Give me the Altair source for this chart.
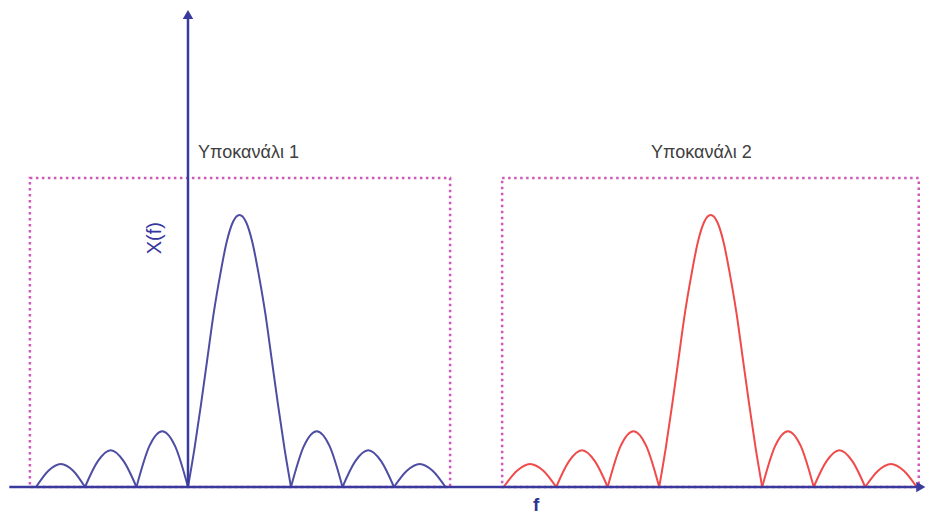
import altair as alt
import pandas as pd

# ---- data ----
# frequency in units of the zero spacing (0 = vertical axis), amplitude normalised to main peak
blue_f = [
    [-2.95, -2.71, -2.47, -2.23, -2.0],
    [-2.0, -1.75, -1.5, -1.25, -1.0],
    [-1.0, -0.75, -0.5, -0.25, 0.0],
    [0.0, 0.125, 0.25, 0.375, 0.5, 0.625, 0.75, 0.875, 1.0, 1.125, 1.25, 1.375, 1.5, 1.625, 1.75, 1.875, 2.0],
    [2.0, 2.25, 2.5, 2.75, 3.0],
    [3.0, 3.25, 3.5, 3.75, 4.0],
    [4.0, 4.25, 4.5, 4.75, 5.0],
]
blue_a = [
    [0.0, 0.06, 0.085, 0.06, 0.0],
    [0.0, 0.095, 0.135, 0.095, 0.0],
    [0.0, 0.15, 0.205, 0.15, 0.0],
    [0.0, 0.14, 0.30, 0.47, 0.64, 0.78, 0.90, 0.975, 1.0, 0.975, 0.90, 0.78, 0.64, 0.47, 0.30, 0.14, 0.0],
    [0.0, 0.15, 0.205, 0.15, 0.0],
    [0.0, 0.095, 0.135, 0.095, 0.0],
    [0.0, 0.06, 0.085, 0.06, 0.0],
]
red_f = [
    [6.13, 6.39, 6.64, 6.90, 7.15],
    [7.15, 7.40, 7.65, 7.90, 8.15],
    [8.15, 8.40, 8.65, 8.90, 9.15],
    [9.15, 9.275, 9.40, 9.525, 9.65, 9.775, 9.90, 10.025, 10.15, 10.275, 10.40, 10.525, 10.65, 10.775, 10.90, 11.025, 11.15],
    [11.15, 11.40, 11.65, 11.90, 12.15],
    [12.15, 12.40, 12.65, 12.90, 13.15],
    [13.15, 13.40, 13.65, 13.90, 14.15],
]
red_a = [
    [0.0, 0.06, 0.085, 0.06, 0.0],
    [0.0, 0.095, 0.135, 0.095, 0.0],
    [0.0, 0.15, 0.205, 0.15, 0.0],
    [0.0, 0.14, 0.30, 0.47, 0.64, 0.78, 0.90, 0.975, 1.0, 0.975, 0.90, 0.78, 0.64, 0.47, 0.30, 0.14, 0.0],
    [0.0, 0.15, 0.205, 0.15, 0.0],
    [0.0, 0.095, 0.135, 0.095, 0.0],
    [0.0, 0.06, 0.085, 0.06, 0.0],
]
box_left = [-3.07, 6.10]
box_right = [5.09, 14.19]
box_top = [1.136, 1.136]
labels = ["Υποκανάλι 1", "Υποκανάλι 2"]
label_f = [1.175, 9.97]
label_a = [1.21, 1.21]

# ---- tables ----
rows = []
for name, fs, amps in (("blue", blue_f, blue_a), ("red", red_f, red_a)):
    for i, (fl, al) in enumerate(zip(fs, amps)):
        for f, a in zip(fl, al):
            rows.append({"ch": name, "lobe": f"{name}{i}", "f": f, "a": a})
curves = pd.DataFrame(rows)
boxes = pd.DataFrame({"x": box_left, "x2": box_right, "y": [0, 0], "y2": box_top})
lab = pd.DataFrame({"t": labels, "f": label_f, "a": label_a})

X = alt.Scale(domain=[-3.495, 14.35], nice=False, zero=False)
Y = alt.Scale(domain=[-0.125, 1.761], nice=False, zero=False)

AXIS_COL = "#3a3a9e"

box_layer = alt.Chart(boxes).mark_rect(
    filled=False, stroke="#d058b8", strokeWidth=2.5, strokeDash=[2.5, 3.5]
).encode(
    x=alt.X("x:Q", scale=X, axis=None), x2="x2",
    y=alt.Y("y:Q", scale=Y, axis=None), y2="y2",
)

blue_layer = alt.Chart(curves[curves.ch == "blue"]).mark_line(
    interpolate="monotone", color="#4d4da3", strokeWidth=2
).encode(
    x=alt.X("f:Q", scale=X, axis=None),
    y=alt.Y("a:Q", scale=Y, axis=None),
    detail="lobe:N",
)
red_layer = alt.Chart(curves[curves.ch == "red"]).mark_line(
    interpolate="monotone", color="#f04a4a", strokeWidth=2
).encode(
    x=alt.X("f:Q", scale=X, axis=None),
    y=alt.Y("a:Q", scale=Y, axis=None),
    detail="lobe:N",
)

haxis = alt.Chart(pd.DataFrame({"x": [-3.47], "x2": [14.25], "y": [0.0]})).mark_rule(
    color=AXIS_COL, strokeWidth=2.5
).encode(x=alt.X("x:Q", scale=X, axis=None), x2="x2", y=alt.Y("y:Q", scale=Y, axis=None))
vaxis = alt.Chart(pd.DataFrame({"x": [0.0], "y": [0.0], "y2": [1.73]})).mark_rule(
    color=AXIS_COL, strokeWidth=2.5
).encode(x=alt.X("x:Q", scale=X, axis=None), y=alt.Y("y:Q", scale=Y, axis=None), y2="y2")

arrow_up = alt.Chart(pd.DataFrame({"x": [0.0], "y": [1.737]})).mark_point(
    shape="triangle-up", filled=True, size=110, color=AXIS_COL, opacity=1
).encode(x=alt.X("x:Q", scale=X, axis=None), y=alt.Y("y:Q", scale=Y, axis=None))
arrow_right = alt.Chart(pd.DataFrame({"x": [14.23], "y": [0.0]})).mark_point(
    shape="triangle-right", filled=True, size=110, color=AXIS_COL, opacity=1
).encode(x=alt.X("x:Q", scale=X, axis=None), y=alt.Y("y:Q", scale=Y, axis=None))

label_layer = alt.Chart(lab).mark_text(
    font="Liberation Sans", fontSize=18, color="#404040", baseline="alphabetic", align="center"
).encode(
    x=alt.X("f:Q", scale=X, axis=None),
    y=alt.Y("a:Q", scale=Y, axis=None),
    text="t:N",
)

ylab = alt.Chart(pd.DataFrame({"t": ["X(f)"], "f": [-0.64], "a": [0.915]})).mark_text(
    font="Liberation Sans", fontSize=20, color="#3636a0", angle=270,
    align="center", baseline="middle"
).encode(x=alt.X("f:Q", scale=X, axis=None), y=alt.Y("a:Q", scale=Y, axis=None), text="t:N")

xlab = alt.Chart(pd.DataFrame({"t": ["f"], "f": [6.76], "a": [-0.09]})).mark_text(
    font="Liberation Sans", fontSize=19, color="#2e3590", fontWeight="bold",
    align="center", baseline="alphabetic"
).encode(x=alt.X("f:Q", scale=X, axis=None), y=alt.Y("a:Q", scale=Y, axis=None), text="t:N")

chart = alt.layer(
    box_layer, blue_layer, red_layer, haxis, vaxis, arrow_up, arrow_right,
    label_layer, ylab, xlab
).properties(
    width=919, height=513, padding=0, autosize="none", background="white"
).configure_view(strokeWidth=0)

chart.save("out.html", embed_options={"renderer": "svg", "actions": False})
